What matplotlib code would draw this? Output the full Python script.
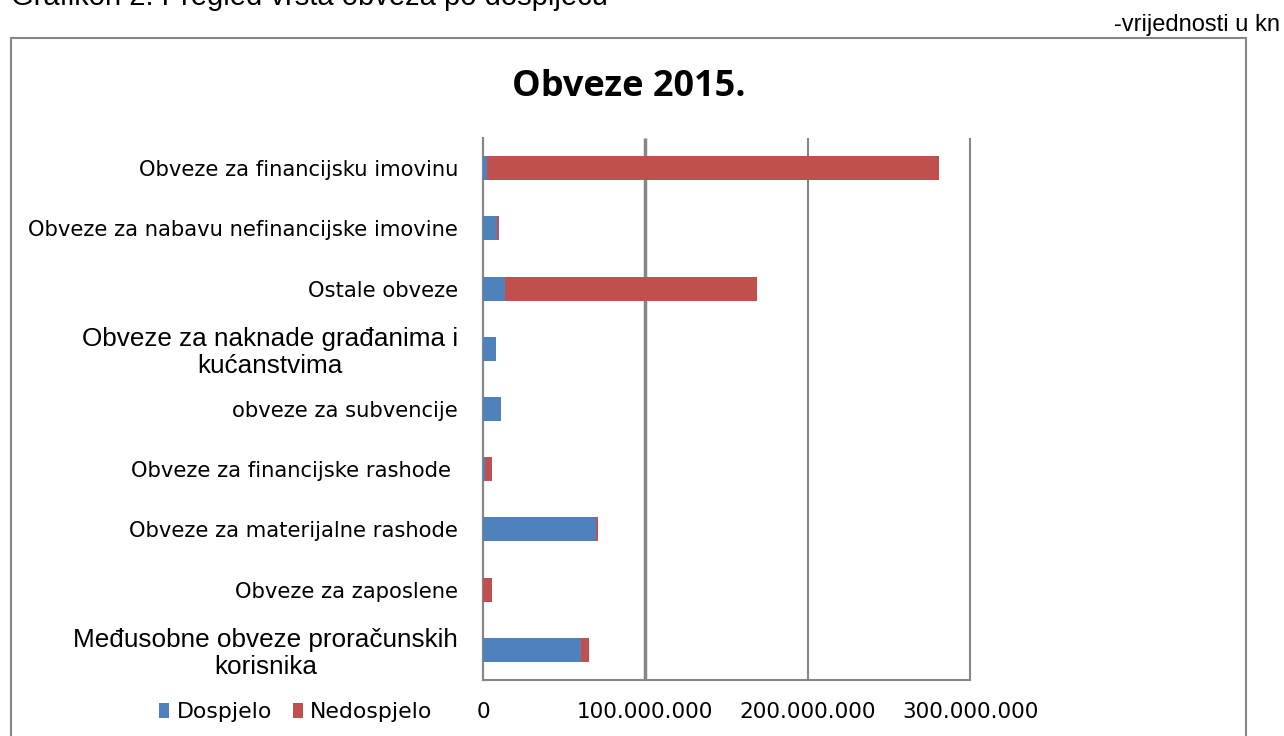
import matplotlib
matplotlib.use("Agg")
import matplotlib.pyplot as plt
from matplotlib.patches import Rectangle
from matplotlib.font_manager import FontProperties

categories = [
    "Međusobne obveze proračunskih\nkorisnika",
    "Obveze za zaposlene",
    "Obveze za materijalne rashode",
    "Obveze za financijske rashode ",
    "obveze za subvencije",
    "Obveze za naknade građanima i\nkućanstvima",
    "Ostale obveze",
    "Obveze za nabavu nefinancijske imovine",
    "Obveze za financijsku imovinu",
]
dospjelo = [60.4e6, 0.0, 69.6e6, 1.2e6, 11.0e6, 8.0e6, 13.6e6, 8.6e6, 2.5e6]
nedospjelo = [4.9e6, 5.5e6, 1.2e6, 4.3e6, 0.0, 0.0, 155.0e6, 1.2e6, 278.5e6]
series_names = ["Dospjelo", "Nedospjelo"]
xticks = [0, 100e6, 200e6, 300e6]
xtick_labels = ["0", "100.000.000", "200.000.000", "300.000.000"]
title = "Obveze 2015."
doc_caption = "Grafikon 2. Pregled vrsta obveza po dospijeću"
unit_note = "-vrijednosti u kn"

BLUE = "#4F81BD"
RED = "#C0504D"
GRAY = "#868686"
W, H = 1284, 736

fig = plt.figure(figsize=(W / 100, H / 100), dpi=100)

# document texts
fig.text(11 / W, 1 - 5 / H, doc_caption, family="Liberation Sans", fontsize=21,
         ha="left", va="baseline")
fig.text(1280 / W, 1 - 31 / H, unit_note, family="Liberation Sans", fontsize=17,
         ha="right", va="baseline")

# chart frame
fig.patches.append(Rectangle((11 / W, -0.05), (1246 - 11) / W, 1.05 - 38 / H,
                             transform=fig.transFigure, fill=False,
                             edgecolor=GRAY, linewidth=1.5, zorder=0))

ax = fig.add_axes([483 / W, 1 - 680 / H, (970 - 483) / W, (680 - 138) / H])
y = list(range(len(categories)))
ax.barh(y, dospjelo, height=0.4, color=BLUE, label=series_names[0], zorder=3)
ax.barh(y, nedospjelo, left=dospjelo, height=0.4, color=RED,
        label=series_names[1], zorder=3)

ax.set_ylim(-0.5, len(categories) - 0.5)
ax.set_xlim(0, 300e6)
ax.set_xticks(xticks)
ax.set_xticklabels(xtick_labels, family="DejaVu Sans", fontsize=15.5)
ax.set_yticks(y)
ax.set_yticklabels(categories, family="DejaVu Sans", fontsize=15.2,
                   multialignment="center")
for lbl in ax.get_yticklabels():
    if "\n" in lbl.get_text():
        lbl.set_fontproperties(FontProperties(family="Liberation Sans", size=18.8))
        lbl.set_linespacing(1.12)
ax.tick_params(axis="y", length=0, pad=18)
ax.tick_params(axis="x", length=0, pad=16)

ax.grid(axis="x", color=GRAY, linewidth=1.5, zorder=0)
ax.set_axisbelow(True)
for i, g in enumerate(ax.get_xgridlines()):
    g.set_clip_on(False)
    g.set_solid_capstyle("butt")
    if i == 1:
        g.set_linewidth(2.5)
for s in ["top", "right"]:
    ax.spines[s].set_visible(False)
for s in ["left", "bottom"]:
    ax.spines[s].set_color(GRAY)
    ax.spines[s].set_linewidth(1.5)

fig.text(629 / W, 1 - 87 / H, title, family="Open Sans", fontweight="bold",
         fontsize=26, ha="center", va="center")

fig.legend(loc="center left", bbox_to_anchor=(159 / W, 1 - 712 / H),
           ncol=2, frameon=False, prop=FontProperties(family="DejaVu Sans", size=15.8),
           handlelength=0.45, handleheight=0.7, handletextpad=0.35,
           columnspacing=0.95, borderpad=0, borderaxespad=0)

fig.savefig("out.png", dpi=100)
